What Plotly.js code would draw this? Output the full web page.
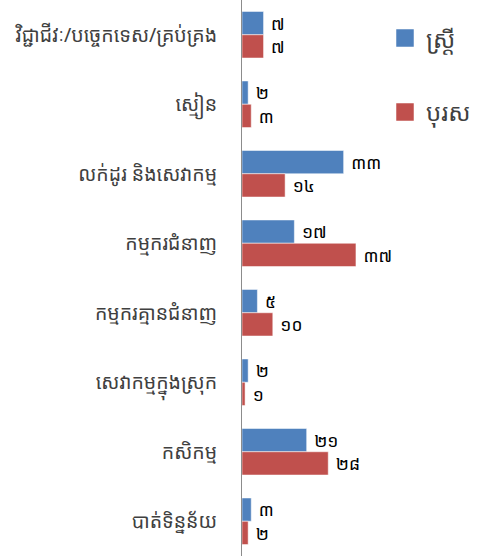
<!DOCTYPE html>
<html>
<head>
<meta charset="utf-8">
<script src="https://cdn.plot.ly/plotly-3.0.1.min.js"></script>
<style>html,body{margin:0;padding:0;background:#fff;}#chart{width:477px;height:556px;}</style>
</head>
<body>
<div id="chart"></div>
<script>
var categories = ["វិជ្ជាជីវៈ/បច្ចេកទេស/គ្រប់គ្រង", "ស្មៀន", "លក់ដូរ និងសេវាកម្ម", "កម្មករជំនាញ", "កម្មករគ្មានជំនាញ", "សេវាកម្មក្នុងស្រុក", "កសិកម្ម", "បាត់ទិន្នន័យ"];
var female = [7, 2, 33, 17, 5, 2, 21, 3];
var male = [7, 3, 14, 37, 10, 1, 28, 2];
var seriesNames = ["ស្ត្រី", "បុរស"];
var seriesColors = ["#4F81BD", "#C0504D"];
var khmerDigits = ["០","១","២","៣","៤","៥","៦","៧","៨","៩"];
function toKhmer(n){ return "\u00a0" + String(n).split("").map(function(d){return khmerDigits[+d];}).join(""); }

var font = "'Noto Sans Khmer', 'Khmer OS', 'DejaVu Sans', sans-serif";
var traces = [female, male].map(function(vals, i){
  return {type:"bar", orientation:"h", name:seriesNames[i], y:categories, x:vals,
   text:vals.map(toKhmer), textposition:"outside", cliponaxis:false,
   textfont:{size:18, color:"#000", family:font},
   marker:{color:seriesColors[i], line:{color:"rgba(255,255,255,0.5)", width:1}}, hoverinfo:"none"};
});

// manual legend (paper coords)
var shapes = [], annotations = [];
var legY = [38, 112];
seriesNames.forEach(function(n, i){
  var cy = 1 - legY[i]/556;
  shapes.push({type:"rect", xref:"paper", yref:"paper", x0:(396-242)/235, x1:(414-242)/235,
    y0:cy-9/556, y1:cy+9/556, fillcolor:seriesColors[i], line:{color:"rgba(255,255,255,0.5)", width:1}});
  annotations.push({xref:"paper", yref:"paper", x:(424-242)/235, y:cy, xanchor:"left", yanchor:"middle",
    text:n, showarrow:false, font:{size:24, color:"#404040", family:font}});
});

var layout = {
  width:477, height:556,
  margin:{l:242, r:0, t:0, b:0},
  paper_bgcolor:"#fff", plot_bgcolor:"#fff",
  barmode:"group", bargap:0.33, bargroupgap:0,
  font:{family:font, size:16, color:"#404040"},
  xaxis:{range:[0, 76.3], showgrid:false, zeroline:false, showticklabels:false, showline:false, fixedrange:true},
  yaxis:{autorange:"reversed", showline:true, linecolor:"#8c8c8c", linewidth:1, showgrid:false,
         ticks:"", ticklabelstandoff:20, tickfont:{size:19.5, color:"#404040", family:font}},
  showlegend:false,
  shapes:shapes, annotations:annotations
};
Plotly.newPlot("chart", traces, layout, {staticPlot:true});
</script>
</body>
</html>
